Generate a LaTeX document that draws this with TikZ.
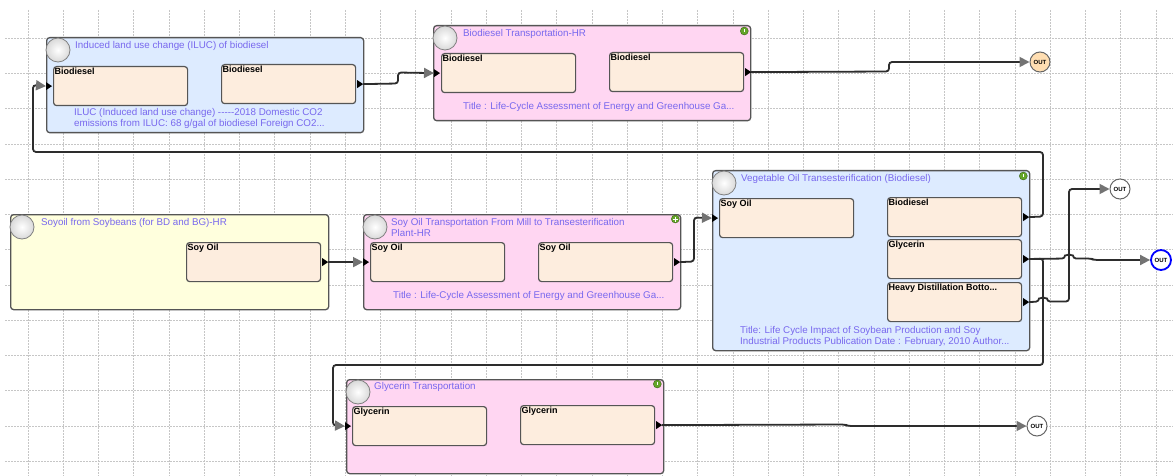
\documentclass[tikz,border=0pt]{standalone}
\usepackage{fontspec}
\setmainfont{Liberation Sans}
\usetikzlibrary{arrows.meta}

\definecolor{titleblue}{RGB}{120,104,238}
\definecolor{boxblue}{RGB}{221,235,255}
\definecolor{boxpink}{RGB}{255,214,242}
\definecolor{boxyellow}{RGB}{255,255,221}
\definecolor{portfill}{RGB}{253,237,222}
\definecolor{edgegray}{RGB}{85,85,85}
\definecolor{wiregray}{RGB}{45,45,45}
\definecolor{tipgray}{RGB}{115,115,115}
\definecolor{outorange}{RGB}{255,222,178}
\definecolor{okgreen}{RGB}{100,165,40}

\begin{document}
\begin{tikzpicture}[x=1pt,y=-1pt,
  font=\fontsize{9.8}{11}\selectfont,
  gridline/.style={gray!45, dash pattern=on 2pt off 1pt, line width=0.8pt},
  block/.style={draw=edgegray, line width=1.3pt, rounded corners=3pt, anchor=north west,
    minimum width=317pt, minimum height=95pt, inner sep=0pt},
  port/.style={draw=edgegray, line width=1.2pt, fill=portfill, rounded corners=3pt, anchor=north west,
    minimum width=134pt, minimum height=39pt, inner sep=0pt,
    label={[portname]north west:#1}},
  portname/.style={anchor=north west, inner sep=1.5pt, font=\fontsize{9}{10}\bfseries\selectfont},
  boxtitle/.style={anchor=north west, inner sep=0pt, text=titleblue, align=left},
  footer/.style={anchor=north west, inner sep=0pt, text=titleblue, align=left},
  badge/.style={circle, draw=gray, line width=0.8pt, inner color=white, outer color=gray!30,
    minimum size=24pt, inner sep=0pt},
  okdot/.style={circle, fill=okgreen, draw=okgreen!60!black, minimum size=8pt, inner sep=0pt},
  outnode/.style={circle, draw=gray!80!black, line width=1pt, fill=white, minimum size=20pt,
    inner sep=0pt, font=\fontsize{6}{6}\bfseries\selectfont},
  wire/.style={draw=wiregray, line width=1.8pt, rounded corners=3pt,
    -{Triangle[length=10pt, width=10pt, fill=tipgray, color=tipgray]}}
]
\useasboundingbox (0,0) rectangle (1173,476);
\fill[white] (0,0) rectangle (1173,476);

% grid
\foreach \gx in {0,...,32}
  \draw[gridline] ({28+35.25*\gx},10) -- ({28+35.25*\gx},476);
\foreach \gy in {0,...,12}
  \draw[gridline] (5,{38.25+35.25*\gy}) -- (1173,{38.25+35.25*\gy});

% processes
\node[block, fill=boxblue] (iluc) at (46,37) {};
\node[block, fill=boxpink] (btr) at (433,25) {};
\node[block, fill=boxyellow, minimum width=318pt] (soy) at (10,214) {};
\node[block, fill=boxpink] (sotr) at (363,214) {};
\node[block, fill=boxblue, minimum height=180pt] (veg) at (712,170) {};
\node[block, fill=boxpink, minimum height=94pt] (gtr) at (346,379) {};

\node[badge] (ilucbadge) at ([shift={(12,13)}]iluc.north west) {};
\node[badge] (btrbadge) at ([shift={(12,13)}]btr.north west) {};
\node[badge] (soybadge) at ([shift={(12,13)}]soy.north west) {};
\node[badge] (sotrbadge) at ([shift={(12,13)}]sotr.north west) {};
\node[badge] (vegbadge) at ([shift={(12,13)}]veg.north west) {};
\node[badge] (gtrbadge) at ([shift={(12,13)}]gtr.north west) {};

\node[okdot] (btrok) at ([shift={(-7,6)}]btr.north east) {};
\node[okdot] (sotrok) at ([shift={(-6,5)}]sotr.north east) {};
\node[okdot] (vegok) at ([shift={(-7,6)}]veg.north east) {};
\node[okdot] (gtrok) at ([shift={(-7,5)}]gtr.north east) {};
\foreach \d in {btrok, vegok, gtrok}
  \draw[white, line width=0.8pt] ([yshift=2pt]\d.center) -- ([yshift=-1pt]\d.center);
\draw[white, line width=0.9pt] ([xshift=-2.5pt]sotrok.center) -- ([xshift=2.5pt]sotrok.center)
  ([yshift=-2.5pt]sotrok.center) -- ([yshift=2.5pt]sotrok.center);

\node[boxtitle] (iluctitle) at ([shift={(29,4)}]iluc.north west) {Induced land use change (ILUC) of biodiesel};
\node[boxtitle] (btrtitle) at ([shift={(30,4)}]btr.north west) {Biodiesel Transportation-HR};
\node[boxtitle] (soytitle) at ([shift={(31,4)}]soy.north west) {Soyoil from Soybeans (for BD and BG)-HR};
\node[boxtitle] (sotrtitle) at ([shift={(28,4)}]sotr.north west) {Soy Oil Transportation From Mill to Transesterification\\Plant-HR};
\node[boxtitle] (vegtitle) at ([shift={(29,4)}]veg.north west) {Vegetable Oil Transesterification (Biodiesel)};
\node[boxtitle] (gtrtitle) at ([shift={(28,3)}]gtr.north west) {Glycerin Transportation};

\node[footer] (ilucnote) at ([shift={(28,-25)}]iluc.south west)
  {ILUC (Induced land use change) {-}{-}{-}{-}{-}2018 Domestic CO2\\emissions from ILUC: 68 g/gal of biodiesel Foreign CO2...};
\node[footer] (btrnote) at ([shift={(30,-19)}]btr.south west)
  {Title : Life-Cycle Assessment of Energy and Greenhouse Ga...};
\node[footer] (sotrnote) at ([shift={(30,-19)}]sotr.south west)
  {Title : Life-Cycle Assessment of Energy and Greenhouse Ga...};
\node[footer] (vegnote) at ([shift={(28,-25)}]veg.south west)
  {Title: Life Cycle Impact of Soybean Production and Soy\\Industrial Products Publication Date : February, 2010 Author...};

% ports
\node[port=Biodiesel] (ilucin) at (53,66) {};
\node[port=Biodiesel] (ilucout) at (221,64) {};
\node[port=Biodiesel] (btrin) at (441,53) {};
\node[port=Biodiesel] (btrout) at (609,52) {};
\node[port=Soy Oil] (soyout) at (186,242) {};
\node[port=Soy Oil] (sotrin) at (370,242) {};
\node[port=Soy Oil] (sotrout) at (538,242) {};
\node[port=Soy Oil] (vegin) at (719,198) {};
\node[port=Biodiesel] (vegbio) at (887,197) {};
\node[port=Glycerin] (veggly) at (887,239) {};
\node[port=Heavy Distillation Botto...] (veghdb) at (887,282) {};
\node[port=Glycerin] (gtrin) at (352,406) {};
\node[port=Glycerin] (gtrout) at (520,405) {};

\foreach \p in {ilucin, btrin, sotrin, vegin, gtrin}
  \fill ([xshift=-7pt,yshift=4pt]\p.west) -- ([xshift=-1pt]\p.west) -- ([xshift=-7pt,yshift=-4pt]\p.west) -- cycle;
\foreach \p in {ilucout, btrout, soyout, sotrout, vegbio, veggly, veghdb, gtrout}
  \fill ([xshift=1pt,yshift=4pt]\p.east) -- ([xshift=7pt]\p.east) -- ([xshift=1pt,yshift=-4pt]\p.east) -- cycle;

% outputs
\node[outnode, fill=outorange] (out1) at (1040,62) {OUT};
\node[outnode] (out2) at (1120,189) {OUT};
\node[outnode, draw=blue, line width=1.8pt] (out3) at (1161,260) {OUT};
\node[outnode] (out4) at (1037,426) {OUT};

% flows
\draw[wire] ([xshift=7pt]ilucout.east) -- (398,83.5) -- (398,72.5) -- ([xshift=-7pt]btrin.west);
\draw[wire] ([xshift=7pt]btrout.east) -- (889,71.5) -- (889,62) -- (out1.west);
\draw[wire] ([xshift=7pt]soyout.east) -- ([xshift=-7pt]sotrin.west);
\draw[wire] ([xshift=7pt]sotrout.east) -- (694,261.5) -- (694,217.5) -- ([xshift=-7pt]vegin.west);
\draw[wire] ([xshift=7pt]vegbio.east) -- (1043,216.5) -- (1043,152) -- (33,152) -- (33,85)
  -- ([xshift=-7pt]ilucin.west);
\draw[wire] ([xshift=7pt]veggly.east) -- (1065,258.5) arc[start angle=180, end angle=360, radius=4]
  -- (1091,258.5) -- (1094,260) -- (out3.west);
\draw[wire] ([xshift=7pt]veghdb.east) -- (1039,301.5) arc[start angle=180, end angle=360, radius=4]
  -- (1069,301.5) -- (1069,189) -- (out2.west);
\draw[wire] ([xshift=7pt]veggly.east) -- (1043,258.5) -- (1043,365) -- (333,365) -- (333,425.5)
  -- ([xshift=-7pt]gtrin.west);
\draw[wire] ([xshift=7pt]gtrout.east) -- (845,424.5) -- (848,426) -- (out4.west);
\end{tikzpicture}
\end{document}
